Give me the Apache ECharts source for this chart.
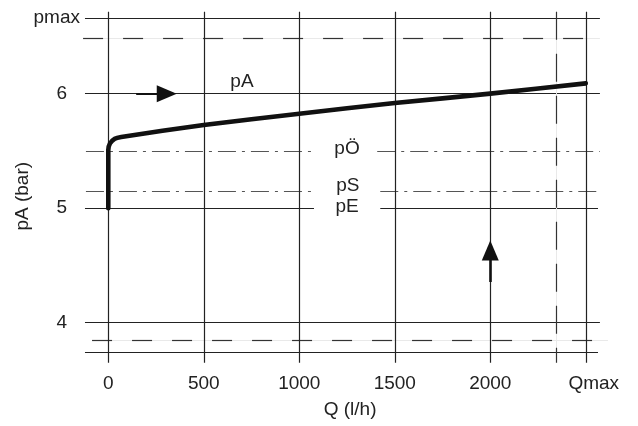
<!DOCTYPE html>
<html>
<head>
<meta charset="utf-8">
<script src="https://cdn.jsdelivr.net/npm/echarts@6/dist/echarts.min.js"></script>
<style>html,body{margin:0;padding:0;background:#fff}#c{width:638px;height:426px}</style>
</head>
<body>
<div id="c"></div>
<script>
// ---- data ----
const flowTicks = [0, 500, 1000, 1500, 2000, 2500];
const flowTickLabels = ['0', '500', '1000', '1500', '2000', 'Qmax'];
const curveFlow = [0, 0, 9, 34, 68, 500, 1000, 1500, 2000, 2500];
const curvePressure = [5.0, 5.508, 5.565, 5.607, 5.622, 5.727, 5.825, 5.918, 6.0, 6.09];
const levelNames = ['pmax', 'pmaxTol', 'p6', 'pOe', 'pS', 'pE', 'p4', 'pminTol', 'base'];
const levelValues = [6.66, 6.48, 6.0, 5.5, 5.15, 5.0, 4.0, 3.845, 3.74];
const levelTickLabels = ['pmax', '', '6', '', '', '5', '4', '', ''];
const qLimitFlow = 2344;
const annotationTexts = ['pA', 'pÖ', 'pS', 'pE'];
const annotationFlow = [700, 1250, 1254, 1250];
const annotationPressure = [6.102, 5.517, 5.196, 5.011];
const arrowFrom = [[146, 6.0], [2000, 4.355]];
const arrowTo = [[306, 6.0], [2000, 4.629]];

// ---- layout / style config ----
const Q_MIN = -135, Q_MAX = 2620, P_MIN = 3.65, P_MAX = 6.715;
const L = -122, R = 2574;
const levelLayout = {
  pmax:    { segs: [[L, R]], style: 'solid', dist: 5 },
  pmaxTol: { segs: [[-132, R]], style: 'dashed' },
  p6:      { segs: [[L, R]], style: 'solid', dist: 18 },
  pOe:     { segs: [[-117, 1072], [1408, R]], style: 'dashdot' },
  pS:      { segs: [[-117, 1077], [1424, 2564]], style: 'dashdot' },
  pE:      { segs: [[L, 1077], [1424, 2564]], style: 'solid', dist: 18, lift: 2 },
  p4:      { segs: [[L, R]], style: 'solid', dist: 18, lift: 8 },
  pminTol: { segs: [[-85, 2616]], style: 'dashed' },
  base:    { segs: [[L, 2564]], style: 'solid' }
};
const styles = {
  solid:   { color: '#222', width: 1.2, type: 'solid' },
  dashed:  { color: '#333', width: 1.2, type: [20, 20] },
  dashdot: { color: '#555', width: 1.2, type: [18, 6, 3, 6] },
  faint:   { color: '#e9e9e9', width: 1, type: 'solid' }
};
const FONT = 'Liberation Sans, Arial, Helvetica, sans-serif';
const FS = 19;
const TXT = '#222';

const gridLines = [];
levelNames.forEach((name, i) => {
  const cfg = levelLayout[name];
  const v = levelValues[i];
  cfg.segs.forEach((s, k) => {
    if (cfg.style === 'dashed') {
      gridLines.push([{ coord: [s[0], v], lineStyle: styles.faint }, { coord: [s[1], v] }]);
    }
    const first = { coord: [s[0], v], lineStyle: styles[cfg.style] };
    if (k === 0 && levelTickLabels[i]) {
      first.label = { show: true, position: 'start', distance: cfg.dist, formatter: levelTickLabels[i],
        fontSize: FS, color: TXT, fontFamily: FONT, padding: [0, 0, cfg.lift || 0, 0] };
    }
    gridLines.push([first, { coord: [s[1], v] }]);
  });
});
flowTicks.forEach(q => {
  gridLines.push([{ coord: [q, P_MAX], lineStyle: styles.solid }, { coord: [q, P_MIN] }]);
});
gridLines.push([{ coord: [qLimitFlow, P_MAX], lineStyle: styles.faint }, { coord: [qLimitFlow, P_MIN] }]);
gridLines.push([{ coord: [qLimitFlow, P_MAX], lineStyle: Object.assign({}, styles.dashed, { type: [28, 14] }) }, { coord: [qLimitFlow, P_MIN] }]);

const arrows = arrowFrom.map((a, i) => [
  { coord: a, lineStyle: { color: '#111', width: i === 0 ? 2 : 2.6, type: 'solid' } },
  { coord: arrowTo[i] }
]);

const chart = echarts.init(document.getElementById('c'), null, { renderer: 'canvas' });
chart.setOption({
  animation: false,
  backgroundColor: '#fff',
  textStyle: { fontFamily: FONT },
  grid: { left: 82.5, right: 29.3, top: 11.8, bottom: 63.3, containLabel: false },
  xAxis: {
    type: 'value', min: Q_MIN, max: Q_MAX,
    axisLine: { show: false }, axisTick: { show: false }, splitLine: { show: false },
    axisLabel: {
      customValues: flowTicks,
      formatter: v => {
        const t = flowTickLabels[flowTicks.indexOf(v)];
        return t === 'Qmax' ? '{q|' + t + '}' : t;
      },
      rich: { q: { fontSize: FS, color: TXT, fontFamily: FONT, padding: [0, 0, 0, 16] } },
      fontSize: FS, color: TXT, margin: 12, fontFamily: FONT
    },
    name: 'Q (l/h)', nameLocation: 'middle', nameGap: 38,
    nameTextStyle: { fontSize: FS, color: TXT, fontFamily: FONT, padding: [0, 0, 0, 9] }
  },
  yAxis: {
    type: 'value', min: P_MIN, max: P_MAX,
    axisLine: { show: false }, axisTick: { show: false }, splitLine: { show: false },
    axisLabel: { show: false },
    name: 'pA (bar)', nameLocation: 'middle', nameGap: 50, nameRotate: 90,
    nameTextStyle: { fontSize: FS, color: TXT, fontFamily: FONT, padding: [0, 18, 0, 0] }
  },
  series: [
    {
      type: 'line', data: [], silent: true, z: 1,
      markLine: { silent: true, symbol: ['none', 'none'], animation: false,
        label: { show: false }, emphasis: { disabled: true }, data: gridLines }
    },
    {
      type: 'line', z: 5, silent: true,
      data: curveFlow.map((q, i) => [q, curvePressure[i]]),
      showSymbol: false, smooth: 0.2,
      lineStyle: { color: '#111', width: 4.6, cap: 'round', join: 'round' }
    },
    {
      type: 'line', data: [], silent: true, z: 6,
      markLine: { silent: true, symbol: ['none', 'triangle'], symbolSize: [17, 20], animation: false,
        label: { show: false }, emphasis: { disabled: true },
        itemStyle: { color: '#111' }, data: arrows }
    },
    {
      type: 'scatter', silent: true, z: 7, symbolSize: 0,
      itemStyle: { opacity: 1 },
      data: annotationFlow.map((q, i) => [q, annotationPressure[i]]),
      label: { show: true, position: [0, 0], align: 'center', verticalAlign: 'middle',
        formatter: p => annotationTexts[p.dataIndex], opacity: 1,
        fontSize: FS, color: TXT, fontFamily: FONT }
    }
  ]
});
</script>
</body>
</html>
